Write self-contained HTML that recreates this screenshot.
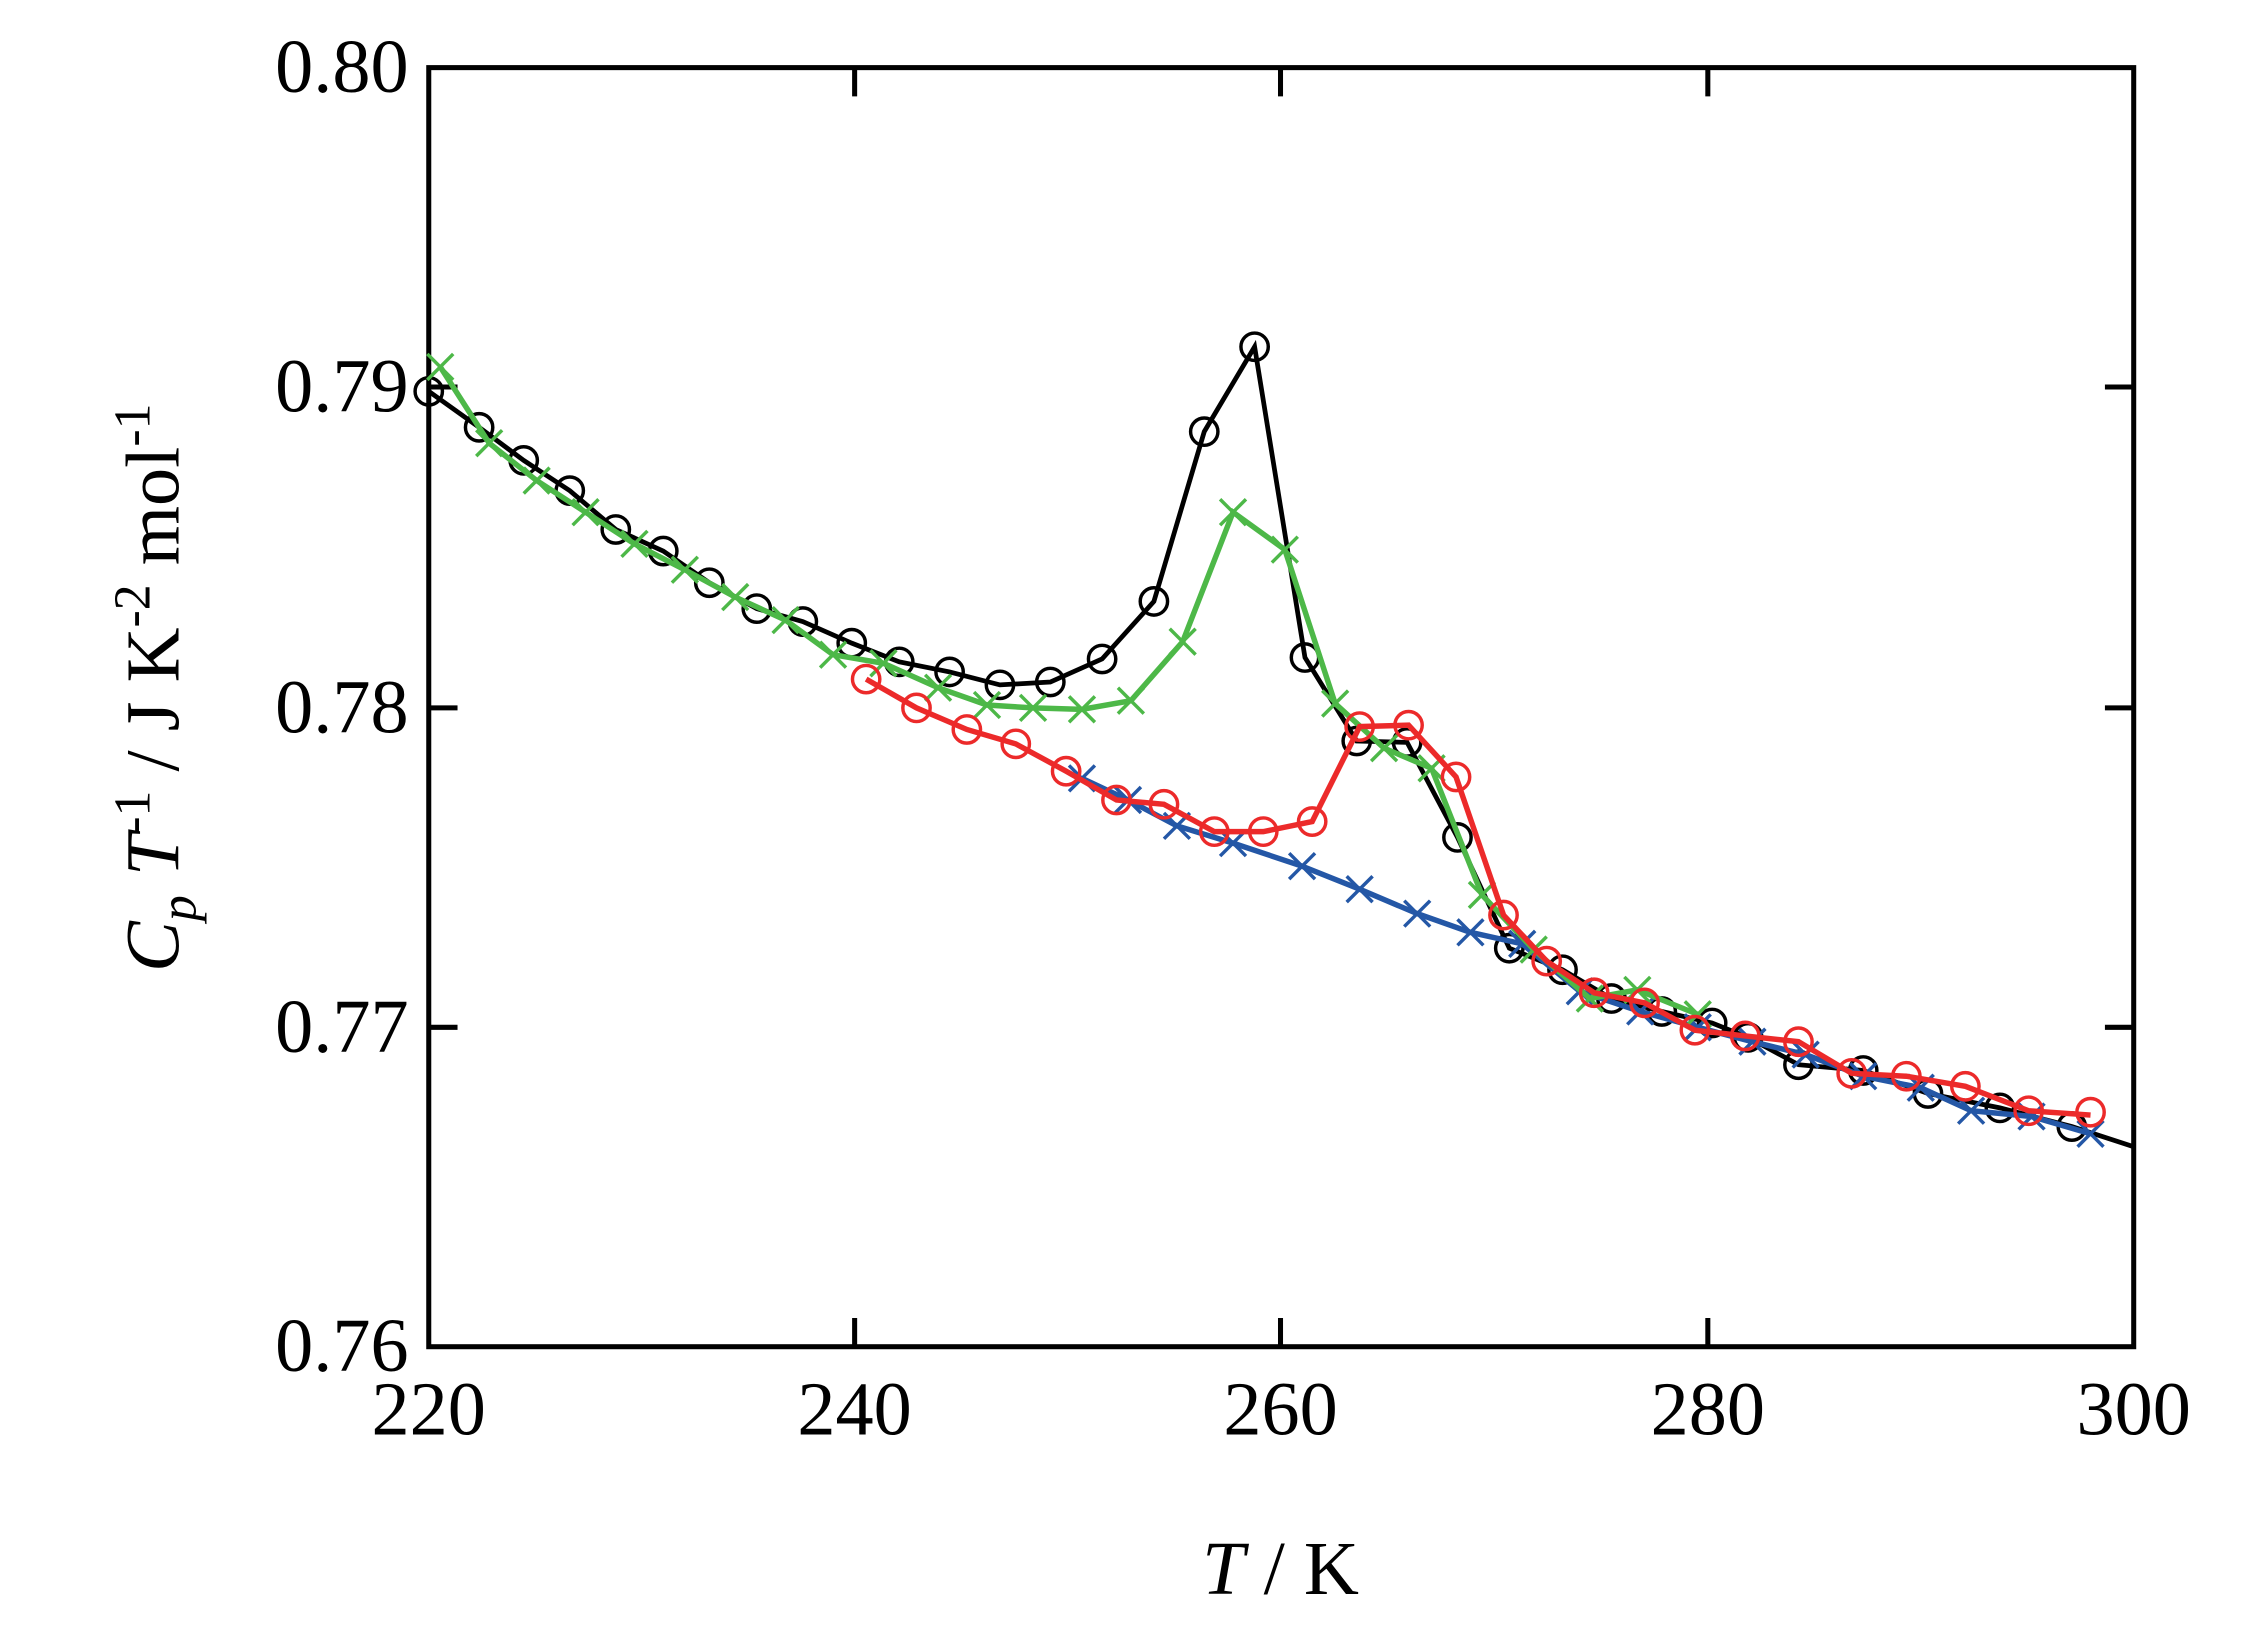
<!DOCTYPE html>
<html><head><style>html,body{margin:0;padding:0;background:#fff}svg{display:block}text{font-family:"Liberation Serif",serif}</style></head>
<body>
<svg width="2256" height="1628" viewBox="0 0 1568 1131.5" preserveAspectRatio="none" xmlns="http://www.w3.org/2000/svg">
<g stroke="#000" stroke-width="3.5" fill="none">
<rect x="298" y="47" width="1185" height="889"/>
<path d="M298 269h20M298 492h20M298 714h20M1483 269h-20M1483 492h-20M1483 714h-20M594 936v-20M890 936v-20M1187 936v-20M594 47v20M890 47v20M1187 47v20"/>
</g>
<g font-size="53" fill="#000" text-anchor="end">
<text x="284" y="64">0.80</text><text x="284" y="286">0.79</text><text x="284" y="509">0.78</text><text x="284" y="731">0.77</text><text x="284" y="953">0.76</text>
</g>
<g font-size="53" fill="#000" text-anchor="middle">
<text x="298" y="997">220</text><text x="594" y="997">240</text><text x="890" y="997">260</text><text x="1187" y="997">280</text><text x="1483" y="997">300</text>
<text x="890" y="1108"><tspan font-style="italic">T</tspan> / K</text>
</g>
<text transform="translate(124,478) rotate(-90)" font-size="53" text-anchor="middle" fill="#000"><tspan font-style="italic">C</tspan><tspan font-style="italic" font-size="36" dy="12">p</tspan><tspan dy="-12"> </tspan><tspan font-style="italic">T</tspan><tspan font-size="36" dy="-20">-1</tspan><tspan dy="20"> / J K</tspan><tspan font-size="36" dy="-20">-2</tspan><tspan dy="20"> mol</tspan><tspan font-size="36" dy="-20">-1</tspan></text>

<!-- black -->
<g stroke="#000" fill="none">
<polyline stroke-width="3.3" points="298,272 333,297 364,320 396,341 428,368 461,383 493,405 526,423 558,432 592,447 625,460 660,467 695,476 730,474 766,458 802,418 837,300 872,241 907,457 943,515 978,516 1013,582 1049,659 1086,674 1120,694 1155,703 1190,711 1215,721 1250,740 1295,744 1340,760 1390,770 1440,783 1483,797"/>
<g stroke-width="2.4">
<circle cx="298" cy="272" r="9.5"/><circle cx="333" cy="297" r="9.5"/><circle cx="364" cy="320" r="9.5"/><circle cx="396" cy="341" r="9.5"/><circle cx="428" cy="368" r="9.5"/><circle cx="461" cy="383" r="9.5"/><circle cx="493" cy="405" r="9.5"/><circle cx="526" cy="423" r="9.5"/><circle cx="558" cy="432" r="9.5"/><circle cx="592" cy="447" r="9.5"/><circle cx="625" cy="460" r="9.5"/><circle cx="660" cy="467" r="9.5"/><circle cx="695" cy="476" r="9.5"/><circle cx="730" cy="474" r="9.5"/><circle cx="766" cy="458" r="9.5"/><circle cx="802" cy="418" r="9.5"/><circle cx="837" cy="300" r="9.5"/><circle cx="872" cy="241" r="9.5"/><circle cx="907" cy="457" r="9.5"/><circle cx="943" cy="515" r="9.5"/><circle cx="978" cy="516" r="9.5"/><circle cx="1013" cy="582" r="9.5"/><circle cx="1049" cy="659" r="9.5"/><circle cx="1086" cy="674" r="9.5"/><circle cx="1120" cy="694" r="9.5"/><circle cx="1155" cy="703" r="9.5"/><circle cx="1190" cy="711" r="9.5"/><circle cx="1215" cy="721" r="9.5"/><circle cx="1250" cy="740" r="9.5"/><circle cx="1295" cy="744" r="9.5"/><circle cx="1340" cy="760" r="9.5"/><circle cx="1390" cy="770" r="9.5"/><circle cx="1440" cy="783" r="9.5"/>
</g></g>

<!-- blue -->
<g stroke="#2457a6" fill="none">
<polyline stroke-width="3.8" points="752,541 784,556 818,574 857,586 905,602 945,618 985,635 1022,648 1058,656 1098,689 1140,703 1180,714 1218,724 1255,733 1295,748 1335,756 1370,772 1412,776 1453,788"/>
<path stroke-width="2.4" d="M743 532l18 18M743 550l18-18M775 547l18 18M775 565l18-18M809 565l18 18M809 583l18-18M848 577l18 18M848 595l18-18M896 593l18 18M896 611l18-18M936 609l18 18M936 627l18-18M976 626l18 18M976 644l18-18M1013 639l18 18M1013 657l18-18M1049 647l18 18M1049 665l18-18M1089 680l18 18M1089 698l18-18M1131 694l18 18M1131 712l18-18M1171 705l18 18M1171 723l18-18M1209 715l18 18M1209 733l18-18M1246 724l18 18M1246 742l18-18M1286 739l18 18M1286 757l18-18M1326 747l18 18M1326 765l18-18M1361 763l18 18M1361 781l18-18M1403 767l18 18M1403 785l18-18M1444 779l18 18M1444 797l18-18"/>
</g>

<!-- green -->
<g stroke="#4db848" fill="none">
<polyline stroke-width="3.8" points="306,255 340,308 373,334 407,356 441,378 476,396 511,415 546,431 579,455 614,461 652,478 686,490 718,492 752,493 786,487 822,446 857,356 893,382 928,489 962,520 995,534 1030,622 1066,660 1105,694 1138,688 1180,705"/>
<path stroke-width="2.4" d="M297 246l18 18M297 264l18-18M331 299l18 18M331 317l18-18M364 325l18 18M364 343l18-18M398 347l18 18M398 365l18-18M432 369l18 18M432 387l18-18M467 387l18 18M467 405l18-18M502 406l18 18M502 424l18-18M537 422l18 18M537 440l18-18M570 446l18 18M570 464l18-18M605 452l18 18M605 470l18-18M643 469l18 18M643 487l18-18M677 481l18 18M677 499l18-18M709 483l18 18M709 501l18-18M743 484l18 18M743 502l18-18M777 478l18 18M777 496l18-18M813 437l18 18M813 455l18-18M848 347l18 18M848 365l18-18M884 373l18 18M884 391l18-18M919 480l18 18M919 498l18-18M953 511l18 18M953 529l18-18M986 525l18 18M986 543l18-18M1021 613l18 18M1021 631l18-18M1057 651l18 18M1057 669l18-18M1096 685l18 18M1096 703l18-18M1129 679l18 18M1129 697l18-18M1171 696l18 18M1171 714l18-18"/>
</g>

<!-- red -->
<g stroke="#ec2a2a" fill="none">
<polyline stroke-width="3.8" points="602,472 637,492 672,507 706,517 741,536 776,556 809,559 844,578 878,578 912,571 945,505 979,504 1012,540 1045,636 1075,668 1108,690 1143,697 1178,716 1213,720 1250,724 1287,746 1325,748 1366,755 1410,772 1453,775"/>
<g stroke-width="2.4">
<circle cx="602" cy="472" r="9.5"/><circle cx="637" cy="492" r="9.5"/><circle cx="672" cy="507" r="9.5"/><circle cx="706" cy="517" r="9.5"/><circle cx="741" cy="536" r="9.5"/><circle cx="776" cy="556" r="9.5"/><circle cx="809" cy="559" r="9.5"/><circle cx="844" cy="578" r="9.5"/><circle cx="878" cy="578" r="9.5"/><circle cx="912" cy="571" r="9.5"/><circle cx="945" cy="505" r="9.5"/><circle cx="979" cy="504" r="9.5"/><circle cx="1012" cy="540" r="9.5"/><circle cx="1045" cy="636" r="9.5"/><circle cx="1075" cy="668" r="9.5"/><circle cx="1108" cy="690" r="9.5"/><circle cx="1143" cy="697" r="9.5"/><circle cx="1178" cy="716" r="9.5"/><circle cx="1213" cy="720" r="9.5"/><circle cx="1250" cy="724" r="9.5"/><circle cx="1287" cy="746" r="9.5"/><circle cx="1325" cy="748" r="9.5"/><circle cx="1366" cy="755" r="9.5"/><circle cx="1410" cy="772" r="9.5"/><circle cx="1453" cy="773" r="9.5"/>
</g></g>
</svg>
</body></html>
